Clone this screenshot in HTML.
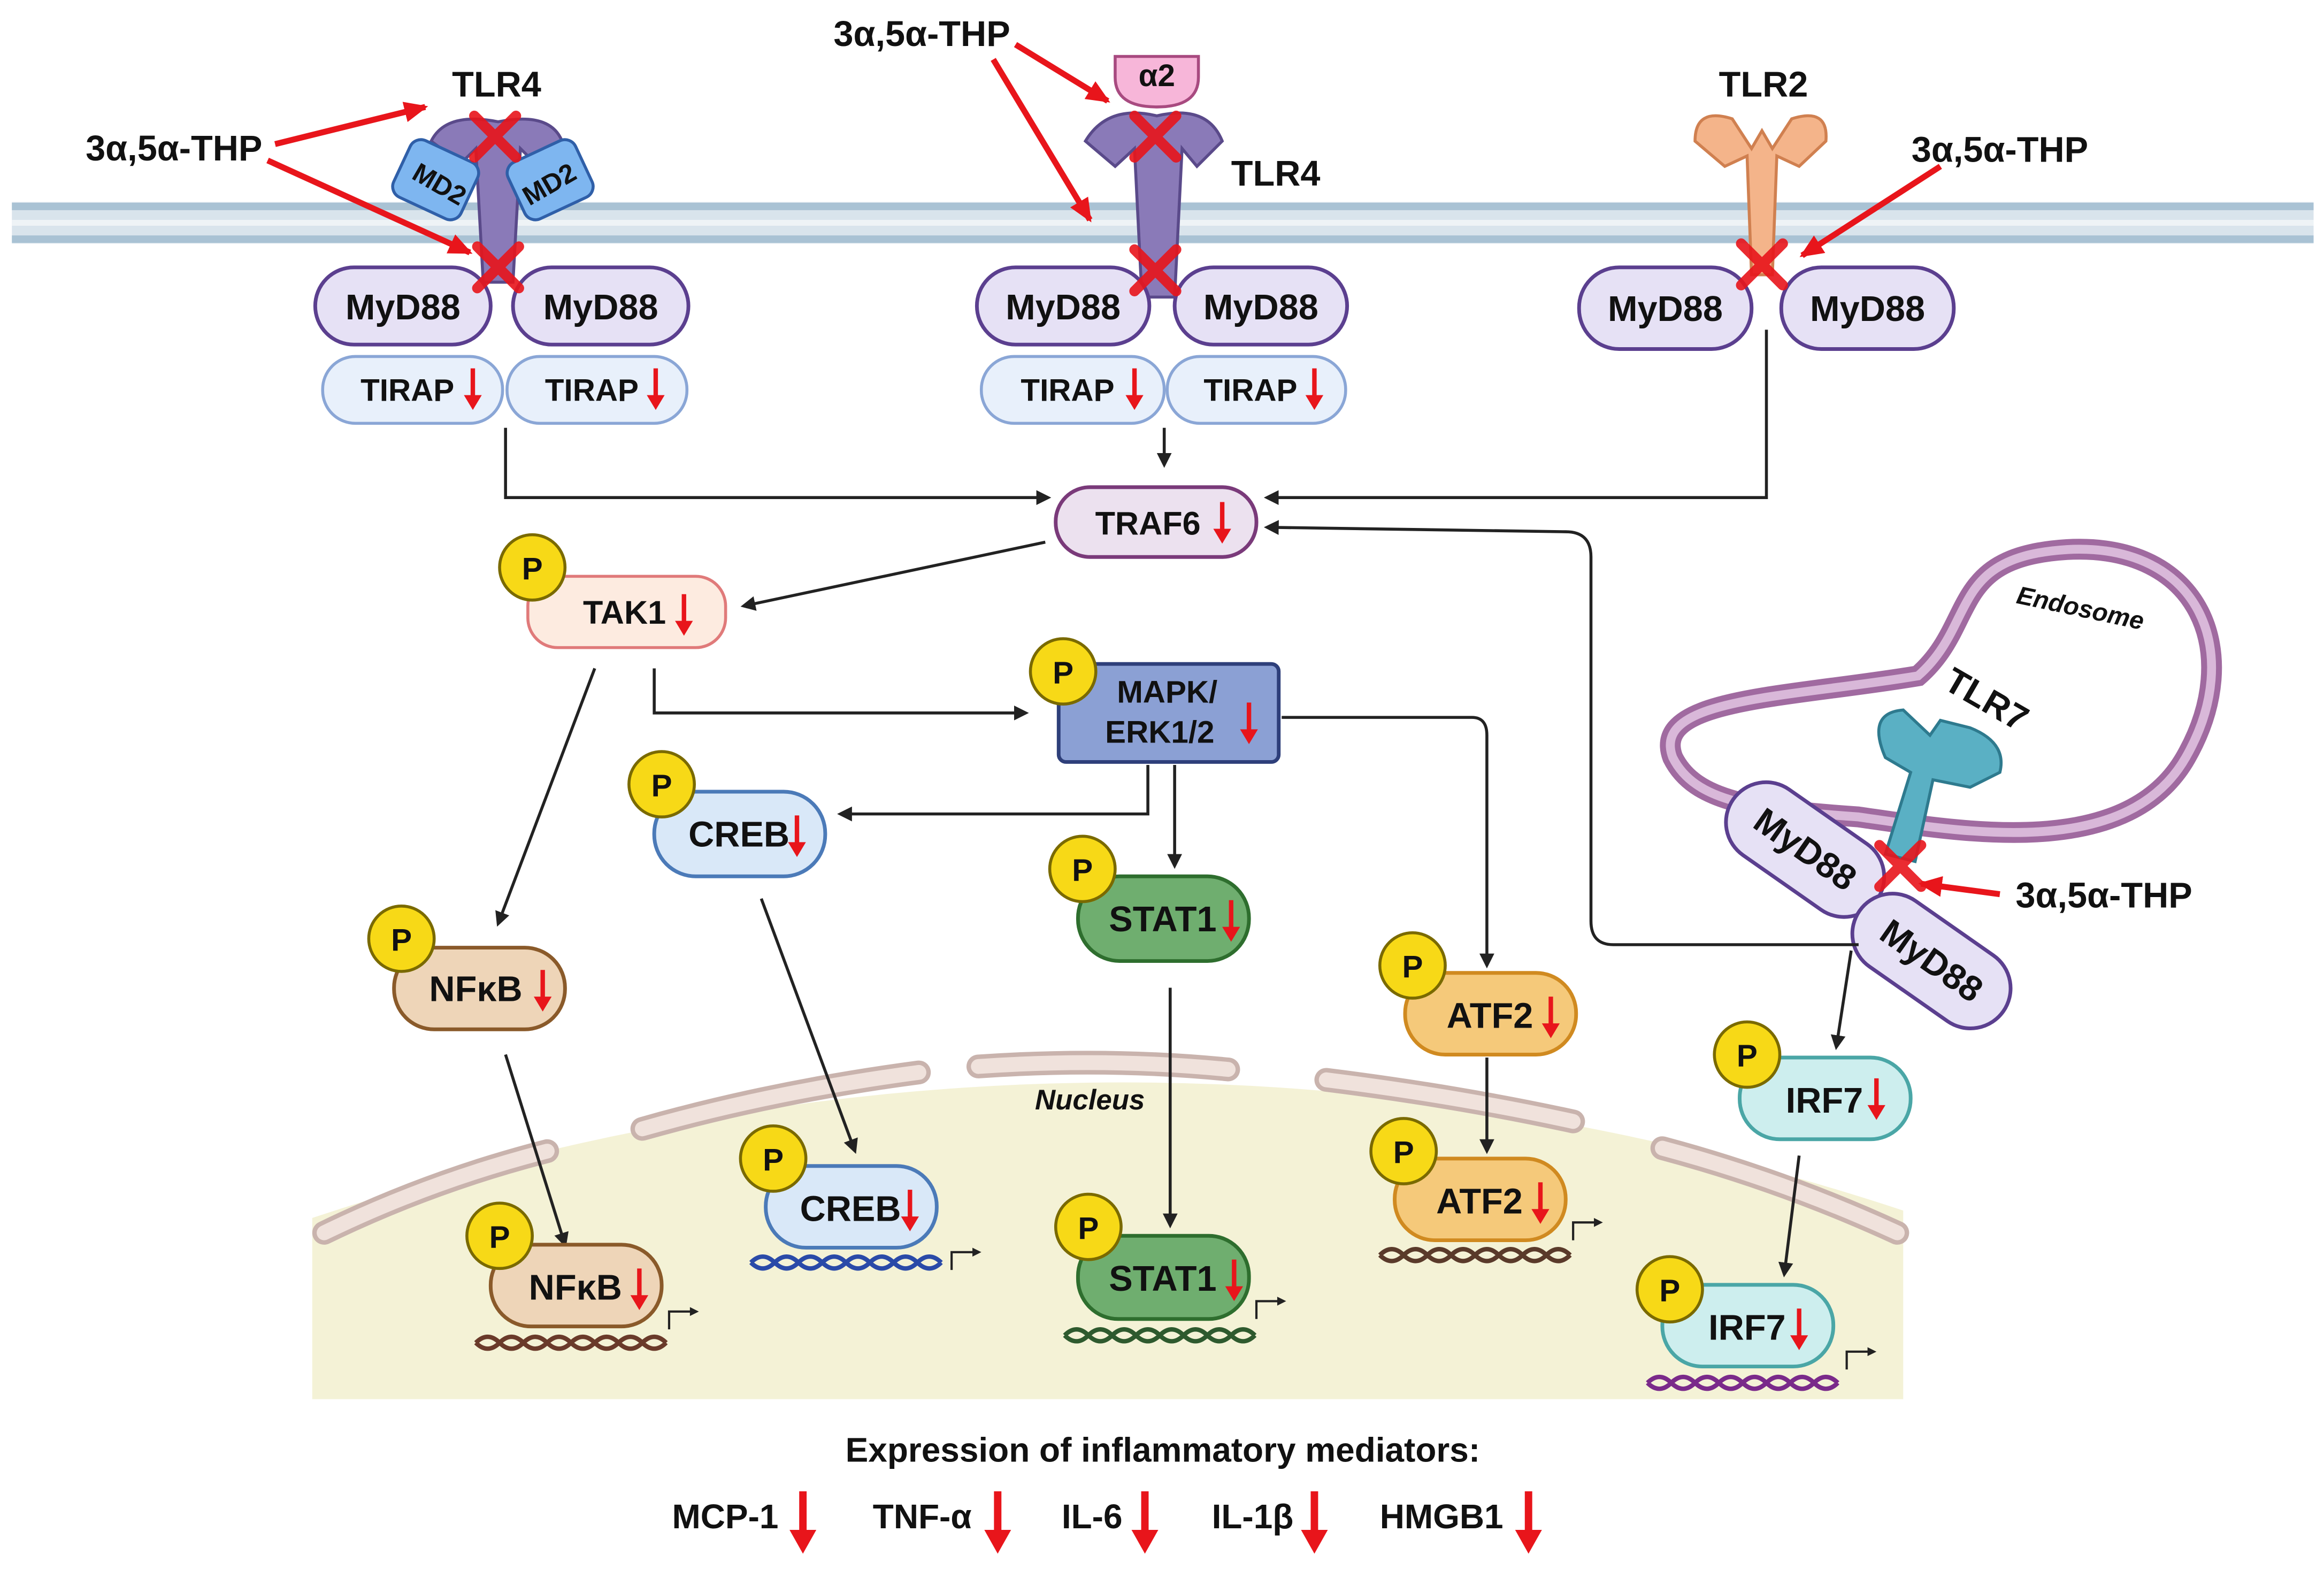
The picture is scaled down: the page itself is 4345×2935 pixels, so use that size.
<!DOCTYPE html>
<html><head><meta charset="utf-8"><style>
html,body{margin:0;padding:0;background:#fff}
svg{display:block}
text{font-family:"Liberation Sans",sans-serif;font-weight:bold;fill:#111}
</style></head><body>
<svg width="4345" height="2935" viewBox="0 0 1563 1057" preserveAspectRatio="none" xmlns="http://www.w3.org/2000/svg">
<defs>
<marker id="ab" markerWidth="10" markerHeight="10" refX="8" refY="5" orient="auto" markerUnits="userSpaceOnUse"><path d="M0,0 L10,5 L0,10 z" fill="#222"/></marker>
<marker id="ar" markerWidth="16" markerHeight="14" refX="14" refY="7" orient="auto" markerUnits="userSpaceOnUse"><path d="M0,0 L16,7 L0,14 z" fill="#e8151b"/></marker>
<g id="x"><path d="M-14,-14 L14,14 M14,-14 L-14,14" stroke="#e8151b" stroke-width="7" stroke-linecap="round" opacity="0.9"/></g>
<g id="dn"><path d="M0,-14 L0,8" stroke="#e8151b" stroke-width="3"/><path d="M-6,4 L0,14 L6,4z" fill="#e8151b"/></g>
<g id="bdn"><path d="M0,-20 L0,12" stroke="#e8151b" stroke-width="5"/><path d="M-9,6 L0,22 L9,6z" fill="#e8151b"/></g>
<g id="P"><circle r="22" fill="#f7d917" stroke="#7a6a00" stroke-width="2"/><text x="0" y="8" text-anchor="middle" font-size="21" font-weight="normal">P</text></g>
<g id="tss"><path d="M0,0 L0,-12 L16,-12" stroke="#222" stroke-width="1.5" fill="none"/><path d="M14,-15 L20,-12 L14,-9z" fill="#222"/></g>
</defs>
<rect x="8" y="136" width="1548" height="28" fill="#d9e4ec"/>
<line x1="8" y1="139" x2="1556" y2="139" stroke="#a9c2d4" stroke-width="5"/>
<line x1="8" y1="161" x2="1556" y2="161" stroke="#a9c2d4" stroke-width="5"/>
<line x1="8" y1="150" x2="1556" y2="150" stroke="#eef3f6" stroke-width="4"/>
<path d="M210,820 Q750,640 1280,815 L1280,942 L210,942 Z" fill="#f4f2d6"/>
<g stroke="#c9b3ad" stroke-width="16" stroke-linecap="round" fill="none">
<path d="M218,830 Q290,795 368,775"/><path d="M432,760 Q520,735 618,722"/><path d="M658,718 Q745,712 826,720"/><path d="M892,727 Q980,738 1058,755"/><path d="M1118,773 Q1200,795 1276,830"/></g>
<g stroke="#f0e2dc" stroke-width="10" stroke-linecap="round" fill="none">
<path d="M218,830 Q290,795 368,775"/><path d="M432,760 Q520,735 618,722"/><path d="M658,718 Q745,712 826,720"/><path d="M892,727 Q980,738 1058,755"/><path d="M1118,773 Q1200,795 1276,830"/></g>
<text x="733" y="747" font-size="19" font-style="italic" font-weight="normal" text-anchor="middle">Nucleus</text>
<path d="M1125,510 C1110,470 1200,470 1290,455 C1330,420 1310,375 1390,370 C1480,365 1510,440 1470,510 C1430,580 1320,560 1250,550 C1180,545 1140,540 1125,510 Z" fill="none" stroke="#a06aa0" stroke-width="14"/>
<path d="M1125,510 C1110,470 1200,470 1290,455 C1330,420 1310,375 1390,370 C1480,365 1510,440 1470,510 C1430,580 1320,560 1250,550 C1180,545 1140,540 1125,510 Z" fill="none" stroke="#d9b8d9" stroke-width="6"/>
<text x="1398" y="415" font-size="17" font-style="italic" font-weight="normal" text-anchor="middle" transform="rotate(12 1398 415)">Endosome</text>
<g fill="#8a7ab8" stroke="#5a4a8a" stroke-width="2">
<path d="M290,95 Q300,75 335,82 Q370,75 378,95 L360,110 L350,100 L345,190 L325,190 L320,100 L310,110 Z"/>
<path d="M730,95 Q745,70 778,78 Q812,70 822,95 L805,112 L795,100 L790,200 L768,200 L763,100 L750,112 Z"/>
</g>
<g fill="#7eb6f0" stroke="#2f5fa8" stroke-width="2">
<rect x="268" y="100" width="50" height="42" rx="8" transform="rotate(25 293 121)"/>
<rect x="345" y="100" width="50" height="42" rx="8" transform="rotate(-25 370 121)"/>
</g>
<text x="295" y="130" font-size="18" transform="rotate(30 295 125)" text-anchor="middle">MD2</text>
<text x="370" y="130" font-size="18" transform="rotate(-30 370 125)" text-anchor="middle">MD2</text>
<path d="M750,38 L806,38 L806,52 Q806,72 778,72 Q750,72 750,52 Z" fill="#f7b6d9" stroke="#a84a80" stroke-width="2"/>
<text x="778" y="58" font-size="21" text-anchor="middle">α2</text>
<path d="M1140,95 Q1140,72 1165,80 L1178,100 L1185,88 L1192,100 L1205,80 Q1230,72 1228,95 L1210,112 L1195,105 L1192,185 L1178,185 L1175,105 L1160,112 Z" fill="#f4b48a" stroke="#d08050" stroke-width="2"/>
<path d="M1268,575 L1285,520 L1268,510 Q1255,480 1280,478 L1298,495 L1305,485 L1325,490 Q1350,500 1345,520 L1325,530 L1300,525 L1288,580 Z" fill="#5ab0c4" stroke="#2e7a8e" stroke-width="2"/>
<text x="334" y="65" font-size="24" text-anchor="middle">TLR4</text>
<text x="858" y="125" font-size="24" text-anchor="middle">TLR4</text>
<text x="1186" y="65" font-size="24" text-anchor="middle">TLR2</text>
<text x="1332" y="478" font-size="24" text-anchor="middle" transform="rotate(30 1332 478)">TLR7</text>
<g fill="#e6e1f5" stroke="#5b3f8f" stroke-width="2.5">
<rect x="212" y="180" width="118" height="52" rx="26"/><rect x="345" y="180" width="118" height="52" rx="26"/>
<rect x="657" y="180" width="116" height="52" rx="26"/><rect x="790" y="180" width="116" height="52" rx="26"/>
<rect x="1062" y="180" width="116" height="55" rx="27"/><rect x="1198" y="180" width="116" height="55" rx="27"/>
<rect x="1155" y="545" width="118" height="54" rx="27" transform="rotate(35 1214 572)"/>
<rect x="1240" y="620" width="118" height="54" rx="27" transform="rotate(35 1299 647)"/>
</g>
<g font-size="24" text-anchor="middle">
<text x="271" y="215">MyD88</text><text x="404" y="215">MyD88</text>
<text x="715" y="215">MyD88</text><text x="848" y="215">MyD88</text>
<text x="1120" y="216">MyD88</text><text x="1256" y="216">MyD88</text>
<text x="1214" y="580" transform="rotate(35 1214 572)">MyD88</text>
<text x="1299" y="655" transform="rotate(35 1299 647)">MyD88</text>
</g>
<g fill="#e8f0fb" stroke="#8aa6d6" stroke-width="2">
<rect x="217" y="240" width="121" height="45" rx="22"/><rect x="341" y="240" width="121" height="45" rx="22"/>
<rect x="660" y="240" width="123" height="45" rx="22"/><rect x="785" y="240" width="120" height="45" rx="22"/>
</g>
<g font-size="21" text-anchor="middle">
<text x="274" y="270">TIRAP</text><text x="398" y="270">TIRAP</text><text x="718" y="270">TIRAP</text><text x="841" y="270">TIRAP</text>
</g>
<use href="#dn" x="318" y="262"/><use href="#dn" x="441" y="262"/><use href="#dn" x="763" y="262"/><use href="#dn" x="884" y="262"/>
<use href="#x" x="333" y="92"/><use href="#x" x="335" y="180"/><use href="#x" x="777" y="92"/><use href="#x" x="777" y="182"/><use href="#x" x="1185" y="178"/><use href="#x" x="1278" y="583"/>
<g stroke="#e8151b" stroke-width="4" fill="none" marker-end="url(#ar)">
<path d="M185,97 L286,72"/><path d="M180,108 L316,170"/>
<path d="M683,30 L745,68"/><path d="M668,40 L733,148"/>
<path d="M1305,112 L1212,172"/><path d="M1345,602 L1292,595"/>
</g>
<g font-size="24" text-anchor="middle">
<text x="117" y="108">3α,5α-THP</text><text x="620" y="31">3α,5α-THP</text><text x="1345" y="109">3α,5α-THP</text><text x="1415" y="611">3α,5α-THP</text>
</g>
<g stroke="#222" stroke-width="2" fill="none" marker-end="url(#ab)">
<path d="M340,288 L340,335 L705,335"/><path d="M783,288 L783,313"/><path d="M1188,222 L1188,335 L852,335"/>
<path d="M703,365 L500,408"/><path d="M440,450 L440,480 L690,480"/><path d="M400,450 L335,622"/>
<path d="M772,515 L772,548 L565,548"/><path d="M790,515 L790,583"/><path d="M862,483 L990,483 Q1000,483 1000,495 L1000,650"/>
<path d="M1250,636 L1085,636 Q1070,636 1070,620 L1070,375 Q1070,358 1053,358 L852,355"/>
<path d="M1245,640 L1235,705"/><path d="M340,710 L380,838"/><path d="M512,605 L575,775"/><path d="M787,665 L787,825"/><path d="M1000,712 L1000,775"/><path d="M1210,778 L1200,858"/>
</g>
<rect x="710" y="328" width="135" height="47" rx="23" fill="#ece1ef" stroke="#7a3a7a" stroke-width="2.5"/>
<text x="772" y="360" font-size="22" text-anchor="middle">TRAF6</text><use href="#dn" x="822" y="352"/>
<rect x="355" y="388" width="133" height="48" rx="20" fill="#fdebe0" stroke="#e07a7a" stroke-width="2"/>
<text x="420" y="420" font-size="22" text-anchor="middle">TAK1</text><use href="#dn" x="460" y="414"/><use href="#P" x="358" y="382"/>
<rect x="712" y="447" width="148" height="66" rx="5" fill="#8ba0d4" stroke="#2e3f7a" stroke-width="2.5"/>
<text x="785" y="473" font-size="21" text-anchor="middle">MAPK/</text><text x="780" y="500" font-size="21" text-anchor="middle">ERK1/2</text><use href="#dn" x="840" y="487"/><use href="#P" x="715" y="452"/>
<g stroke-width="2.5">
<rect x="440" y="533" width="115" height="57" rx="28" fill="#d9e8f8" stroke="#4b7ab8"/>
<rect x="725" y="590" width="115" height="57" rx="28" fill="#6fae6f" stroke="#2e6e2e"/>
<rect x="265" y="638" width="115" height="55" rx="27" fill="#eed5b8" stroke="#8a5a2a"/>
<rect x="945" y="655" width="115" height="55" rx="27" fill="#f5c97a" stroke="#d08a20"/>
<rect x="1170" y="712" width="115" height="55" rx="27" fill="#cdeeee" stroke="#4aa6a6"/>
<rect x="515" y="785" width="115" height="55" rx="27" fill="#d9e8f8" stroke="#4b7ab8"/>
<rect x="725" y="832" width="115" height="56" rx="27" fill="#6fae6f" stroke="#2e6e2e"/>
<rect x="330" y="838" width="115" height="55" rx="27" fill="#eed5b8" stroke="#8a5a2a"/>
<rect x="938" y="780" width="115" height="55" rx="27" fill="#f5c97a" stroke="#d08a20"/>
<rect x="1118" y="865" width="115" height="55" rx="27" fill="#cdeeee" stroke="#4aa6a6"/>
</g>
<g font-size="24" text-anchor="middle">
<text x="497" y="570">CREB</text><text x="782" y="627">STAT1</text><text x="320" y="674">NFκB</text><text x="1002" y="692">ATF2</text><text x="1227" y="749">IRF7</text>
<text x="572" y="822">CREB</text><text x="782" y="869">STAT1</text><text x="387" y="875">NFκB</text><text x="995" y="817">ATF2</text><text x="1175" y="902">IRF7</text>
</g>
<use href="#dn" x="536" y="563"/><use href="#dn" x="828" y="620"/><use href="#dn" x="365" y="667"/><use href="#dn" x="1043" y="685"/><use href="#dn" x="1262" y="740"/>
<use href="#dn" x="612" y="815"/><use href="#dn" x="830" y="862"/><use href="#dn" x="430" y="868"/><use href="#dn" x="1036" y="810"/><use href="#dn" x="1210" y="895"/>
<use href="#P" x="445" y="528"/><use href="#P" x="728" y="585"/><use href="#P" x="270" y="632"/><use href="#P" x="950" y="650"/><use href="#P" x="1175" y="710"/>
<use href="#P" x="520" y="780"/><use href="#P" x="732" y="826"/><use href="#P" x="336" y="832"/><use href="#P" x="944" y="775"/><use href="#P" x="1123" y="868"/>
<g fill="none" stroke-width="3">
<path d="M505,850 q8,-8 16,0 t16,0 t16,0 t16,0 t16,0 t16,0 t16,0 t16,0 M505,850 q8,8 16,0 t16,0 t16,0 t16,0 t16,0 t16,0 t16,0 t16,0" stroke="#2a4aa8"/>
<path d="M320,904 q8,-8 16,0 t16,0 t16,0 t16,0 t16,0 t16,0 t16,0 t16,0 M320,904 q8,8 16,0 t16,0 t16,0 t16,0 t16,0 t16,0 t16,0 t16,0" stroke="#6a3a2a"/>
<path d="M716,899 q8,-8 16,0 t16,0 t16,0 t16,0 t16,0 t16,0 t16,0 t16,0 M716,899 q8,8 16,0 t16,0 t16,0 t16,0 t16,0 t16,0 t16,0 t16,0" stroke="#2e5a2e"/>
<path d="M928,845 q8,-8 16,0 t16,0 t16,0 t16,0 t16,0 t16,0 t16,0 t16,0 M928,845 q8,8 16,0 t16,0 t16,0 t16,0 t16,0 t16,0 t16,0 t16,0" stroke="#5a3a2a"/>
<path d="M1108,931 q8,-8 16,0 t16,0 t16,0 t16,0 t16,0 t16,0 t16,0 t16,0 M1108,931 q8,8 16,0 t16,0 t16,0 t16,0 t16,0 t16,0 t16,0 t16,0" stroke="#7a2a8a"/>
</g>
<use href="#tss" x="640" y="855"/><use href="#tss" x="450" y="895"/><use href="#tss" x="845" y="888"/><use href="#tss" x="1058" y="835"/><use href="#tss" x="1242" y="922"/>
<text x="782" y="984" font-size="23" text-anchor="middle">Expression of inflammatory mediators:</text>
<g font-size="23">
<text x="452" y="1029">MCP-1</text><text x="587" y="1029">TNF-α</text><text x="714" y="1029">IL-6</text><text x="815" y="1029">IL-1β</text><text x="928" y="1029">HMGB1</text>
</g>
<use href="#bdn" x="540" y="1024"/><use href="#bdn" x="671" y="1024"/><use href="#bdn" x="770" y="1024"/><use href="#bdn" x="884" y="1024"/><use href="#bdn" x="1028" y="1024"/>
</svg>
</body></html>
